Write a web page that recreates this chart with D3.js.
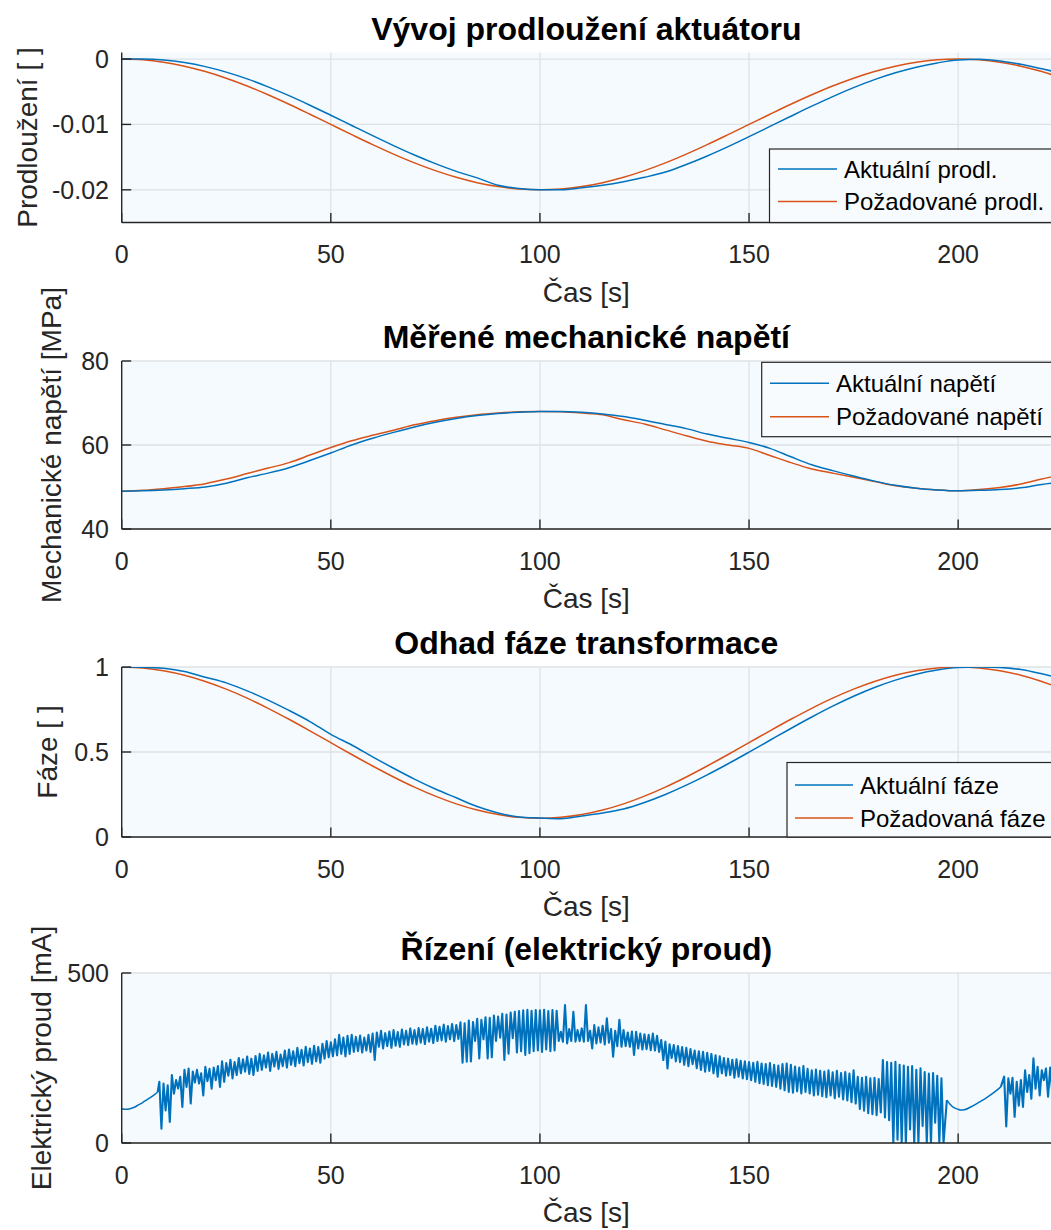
<!DOCTYPE html>
<html>
<head>
<meta charset="utf-8">
<script src="https://cdn.jsdelivr.net/npm/d3@7"></script>
<style>
  html, body { margin: 0; padding: 0; background: #fff; }
  svg { display: block; }
  text { font-family: "Liberation Sans", Arial, Helvetica, sans-serif; }
</style>
</head>
<body>
<script>
// ---- time base for the smooth signals (s) ----
const timeGrid = [0,5,10,15,20,25,30,35,40,45,50,55,60,65,70,75,80,85,90,95,100,
  105,110,115,120,125,130,135,140,145,150,155,160,165,170,175,180,185,190,195,200,
  205,210,215,220,225];

// ---- actuator elongation [ ] ----
const prodlAktualni = [0,0,-0.00015,-0.00054,-0.00116,-0.0020,-0.00304,-0.00425,-0.0056,-0.00706,
  -0.0086,-0.01016,-0.01172,-0.01324,-0.01468,-0.0160,-0.01718,-0.01818,-0.0193,-0.0198,-0.0200,
  -0.0200,-0.0197,-0.0193,-0.01876,-0.01809,-0.01729,-0.01613,-0.01482,-0.01339,-0.01187,
  -0.01031,-0.00875,-0.00721,-0.00574,-0.00438,-0.00315,-0.0021,-0.00124,-0.00059,-0.00015,
  -0.00005,-0.0003,-0.0008,-0.0015,-0.0022];
const prodlPozadovane = [0,-0.00012,-0.00049,-0.00109,-0.00191,-0.00293,-0.00412,-0.00546,-0.00691,-0.00844,
  -0.0100,-0.01156,-0.01309,-0.01454,-0.01588,-0.01707,-0.01809,-0.01891,-0.01951,-0.01988,-0.0200,
  -0.01988,-0.01951,-0.01891,-0.01809,-0.01707,-0.01588,-0.01454,-0.01309,-0.01156,-0.0100,
  -0.00844,-0.00691,-0.00546,-0.00412,-0.00293,-0.00191,-0.00109,-0.00049,-0.00012,0,
  -0.00012,-0.00049,-0.00109,-0.00191,-0.00293];

// ---- measured mechanical stress [MPa] ----
const napetiAktualni = [49.0,49.1,49.3,49.6,50.0,50.9,52.2,53.3,54.6,56.3,58.1,60.0,61.6,63.0,64.3,65.4,
  66.3,67.0,67.5,67.8,68.0,68.0,67.8,67.4,66.8,65.9,64.9,63.9,62.6,61.6,60.6,59.2,57.2,55.3,53.9,
  52.6,51.4,50.4,49.7,49.3,49.1,49.2,49.4,49.8,50.6,51.2];
const napetiPozadovane = [49.0,49.2,49.6,50.1,50.8,51.9,53.2,54.5,55.8,57.6,59.4,61.0,62.3,63.5,64.8,65.8,
  66.6,67.2,67.6,67.9,68.0,67.9,67.6,67.2,66.0,65.0,63.6,62.2,60.9,60.0,59.2,57.5,55.8,54.3,53.3,
  52.3,51.3,50.3,49.7,49.3,49.1,49.4,49.9,50.7,51.9,53.0];

// ---- transformation phase estimate [ ] ----
const fazeAktualni = [1.0,0.999,0.992,0.9737,0.940,0.9066,0.8596,0.8051,0.7445,0.6792,0.604,0.541,0.4716,
  0.4043,0.3406,0.2823,0.2306,0.1793,0.1412,0.1179,0.112,0.108,0.124,0.1412,0.165,0.2034,0.2504,
  0.3049,0.3655,0.4308,0.4992,0.569,0.6384,0.7057,0.7694,0.8277,0.8794,0.923,0.9576,0.9823,0.9965,
  1.0,0.997,0.985,0.96,0.93];
const fazePozadovana = [1.0,0.9945,0.9782,0.9515,0.915,0.8697,0.8166,0.757,0.6925,0.6246,0.555,0.4854,
  0.4175,0.353,0.2934,0.2403,0.195,0.1585,0.1318,0.1155,0.110,0.1155,0.1318,0.1585,0.195,0.2403,
  0.2934,0.353,0.4175,0.4854,0.555,0.6246,0.6925,0.757,0.8166,0.8697,0.915,0.9515,0.9782,0.9945,
  1.0,0.9945,0.9782,0.9515,0.915,0.8697];

// ---- control current [mA] ----
// smooth run-in before the controller starts switching
const proudStartT = [0,1,2,3,4,5,6,7,8,8.6];
const proudStartV = [101,99,101,105,112,119,127,135,144,150];
// per-second upper / lower excursions of the switching current, 9 s .. 196 s
const proudNoiseStart = 9;
const proudNoiseHi = [180,175,170,200,185,195,215,219,210,215,
  205,224,218,222,226,240,235,245,238,250,
  246,254,248,256,262,258,266,262,268,260,
  272,275,270,280,274,283,278,286,282,292,
  300,296,305,318,310,315,318,312,316,310,
  318,322,325,330,323,328,332,326,334,330,
  337,332,338,335,340,336,345,342,348,344,
  350,347,355,352,360,356,365,362,370,368,
  375,372,380,378,384,386,388,390,392,389,
  391,390,392,388,391,389,327,406,335,386,
  332,337,406,330,347,340,345,367,335,330,
  362,332,325,328,327,322,320,318,322,315,
  303,298,290,288,285,282,280,276,272,270,
  268,265,262,258,255,250,248,245,246,242,
  240,238,236,239,234,232,235,230,228,232,
  234,230,225,222,226,218,214,216,212,210,
  214,208,212,206,209,204,214,195,192,195,
  190,192,188,244,238,236,239,230,228,224,
  226,215,220,209,204,206,198,190];
const proudNoiseLo = [42,96,62,145,160,106,165,116,178,175,
  140,182,160,185,165,180,198,190,200,205,
  210,203,200,212,215,222,212,225,218,226,
  222,230,226,235,228,238,233,240,236,248,
  252,255,258,262,255,262,268,270,266,272,
  268,244,283,278,285,280,286,283,290,288,
  292,290,295,291,298,294,300,302,298,305,
  300,306,236,239,240,300,249,305,249,252,
  300,310,244,263,308,266,270,259,264,270,
  272,268,275,270,272,300,298,293,300,298,
  300,298,300,278,293,296,290,295,254,285,
  283,285,283,259,278,275,276,273,272,268,
  244,219,250,240,238,230,226,232,220,215,
  210,212,205,195,205,198,200,192,195,190,
  188,185,180,176,174,170,168,165,160,155,
  150,148,152,146,150,146,140,142,138,135,
  140,132,136,128,125,120,116,100,95,88,
  85,82,90,75,67,0,10,0,0,40,
  0,0,50,0,0,60,0,0];
// smooth pause around the turning point
const proudMidT = [197.3,198,199,200,200.6,201.5,203,205,207,208.5,210.2];
const proudMidV = [126,115,104,99,97,98,106,120,135,148,165];
// switching resumes
const proudTailStart = 211;
const proudTailHi = [195,190,192,180,185,214,200,249,224,214,219,222];
const proudTailLo = [49,145,77,110,106,150,130,160,140,185,136,150];

// ---- axis ticks ----
const xTicks = [0,50,100,150,200];
const prodlTicks = [-0.02,-0.01,0];
const prodlTickLabels = ["-0.02","-0.01","0"];
const napetiTicks = [40,60,80];
const fazeTicks = [0,0.5,1];
const fazeTickLabels = ["0","0.5","1"];
const proudTicks = [0,500];

// ---- assemble the current trace: smooth pieces and switching pieces ----
function switching(start, hi, lo) {
  const pts = [];
  hi.forEach((h, i) => { const t = start + i; pts.push([t, h], [t + 0.5, lo[i]]); });
  return pts;
}
function buildCurrent() {
  const start = proudStartT.map((t, i) => [t, proudStartV[i]]);
  const noise = switching(proudNoiseStart, proudNoiseHi, proudNoiseLo);
  const mid = proudMidT.map((t, i) => [t, proudMidV[i]]);
  const tail = switching(proudTailStart, proudTailHi, proudTailLo);
  return [
    { pts: start, w: 1.5, curve: d3.curveMonotoneX },
    { pts: [start[start.length - 1], ...noise, mid[0]], w: 2.1, curve: d3.curveLinear },
    { pts: mid, w: 1.5, curve: d3.curveMonotoneX },
    { pts: [mid[mid.length - 1], ...tail], w: 2.1, curve: d3.curveLinear }
  ];
}
const zipT = arr => timeGrid.map((t, i) => [t, arr[i]]);

const BLUE = "#0072BD", ORANGE = "#D95319";
const AX = "#262626", GRID = "#DFE2E5", BG = "#F5FAFE";

const W = 1051, H = 1230;
const xLeft = 121.7, xRight = 1051;
const x = d3.scaleLinear().domain([0, 222.2]).range([xLeft, xRight]);

const smooth = (pts) => [{ pts, w: 1.5, curve: d3.curveMonotoneX }];

const panels = [
  { title: "Vývoj prodloužení aktuátoru", ylabel: "Prodloužení [ ]", top: 52.5, bottom: 222.5,
    domain: [-0.025, 0.001], ticks: prodlTicks, tickLabels: prodlTickLabels, ylabelX: 37,
    series: [{ name: "Aktuální prodl.", color: BLUE, parts: smooth(zipT(prodlAktualni)) },
             { name: "Požadované prodl.", color: ORANGE, parts: smooth(zipT(prodlPozadovane)) }],
    legend: { x: 769.5, y: 149, h: 73.5, l1: 169, l2: 201.5, sx: 778, ex: 837, tx: 844 } },
  { title: "Měřené mechanické napětí", ylabel: "Mechanické napětí [MPa]", top: 361, bottom: 529,
    domain: [40, 80], ticks: napetiTicks, tickLabels: napetiTicks.map(String), ylabelX: 61,
    series: [{ name: "Aktuální napětí", color: BLUE, parts: smooth(zipT(napetiAktualni)) },
             { name: "Požadované napětí", color: ORANGE, parts: smooth(zipT(napetiPozadovane)) }],
    legend: { x: 761.7, y: 362.3, h: 74.4, l1: 383.3, l2: 416.7, sx: 770, ex: 829, tx: 836 } },
  { title: "Odhad fáze transformace", ylabel: "Fáze [ ]", top: 667, bottom: 837,
    domain: [0, 1], ticks: fazeTicks, tickLabels: fazeTickLabels, ylabelX: 57,
    series: [{ name: "Aktuální fáze", color: BLUE, parts: smooth(zipT(fazeAktualni)) },
             { name: "Požadovaná fáze", color: ORANGE, parts: smooth(zipT(fazePozadovana)) }],
    legend: { x: 787, y: 762.5, h: 74.5, l1: 785, l2: 818, sx: 795, ex: 853, tx: 860 } },
  { title: "Řízení (elektrický proud)", ylabel: "Elektrický proud [mA]", top: 973, bottom: 1143,
    domain: [0, 500], ticks: proudTicks, tickLabels: proudTicks.map(String), ylabelX: 51,
    series: [{ name: "Proud", color: BLUE, parts: buildCurrent() }],
    legend: null }
];

const svg = d3.select("body").append("svg").attr("width", W).attr("height", H);
svg.append("rect").attr("width", W).attr("height", H).attr("fill", "#fff");

panels.forEach((p, pi) => {
  const y = d3.scaleLinear().domain(p.domain).range([p.bottom, p.top]);
  const g = svg.append("g");

  g.append("rect").attr("x", xLeft).attr("y", p.top)
    .attr("width", xRight - xLeft + 10).attr("height", p.bottom - p.top).attr("fill", BG);

  // grid
  g.selectAll(".gx").data(xTicks.filter(t => t > 0)).join("line")
    .attr("x1", d => x(d)).attr("x2", d => x(d)).attr("y1", p.top).attr("y2", p.bottom)
    .attr("stroke", GRID).attr("stroke-width", 1.3);
  g.selectAll(".gy").data(p.ticks).join("line")
    .attr("x1", xLeft).attr("x2", xRight + 10).attr("y1", d => y(d)).attr("y2", d => y(d))
    .attr("stroke", GRID).attr("stroke-width", 1.3);

  // data
  const clipId = "clip" + pi;
  svg.append("clipPath").attr("id", clipId).append("rect")
    .attr("x", xLeft).attr("y", p.top).attr("width", xRight - xLeft + 10).attr("height", p.bottom - p.top);
  const plot = g.append("g").attr("clip-path", `url(#${clipId})`);
  p.series.slice().reverse().forEach(s => {
    s.parts.forEach(part => {
      const line = d3.line().x(d => x(d[0])).y(d => y(d[1])).curve(part.curve);
      plot.append("path").attr("d", line(part.pts)).attr("fill", "none")
        .attr("stroke", s.color).attr("stroke-width", part.w)
        .attr("stroke-linejoin", "round");
    });
  });

  // spines and inward ticks
  g.append("line").attr("x1", xLeft).attr("x2", xLeft).attr("y1", p.top).attr("y2", p.bottom)
    .attr("stroke", AX).attr("stroke-width", 1.4);
  g.append("line").attr("x1", xLeft).attr("x2", xRight + 5).attr("y1", p.bottom).attr("y2", p.bottom)
    .attr("stroke", AX).attr("stroke-width", 1.4);
  g.selectAll(".tx").data(xTicks).join("line")
    .attr("x1", d => x(d)).attr("x2", d => x(d)).attr("y1", p.bottom).attr("y2", p.bottom - 9.5)
    .attr("stroke", AX).attr("stroke-width", 1.4);
  g.selectAll(".ty").data(p.ticks).join("line")
    .attr("x1", xLeft).attr("x2", xLeft + 9.5).attr("y1", d => y(d)).attr("y2", d => y(d))
    .attr("stroke", AX).attr("stroke-width", 1.4);

  // tick labels
  g.selectAll(".lx").data(xTicks).join("text")
    .attr("x", d => x(d)).attr("y", p.bottom + 40.5).attr("text-anchor", "middle")
    .attr("font-size", 25).attr("fill", AX).text(d => d);
  g.selectAll(".ly").data(p.ticks).join("text")
    .attr("x", 109).attr("y", d => y(d) + 9).attr("text-anchor", "end")
    .attr("font-size", 25).attr("fill", AX).text((d, i) => p.tickLabels[i]);

  // axis labels and title
  g.append("text").attr("x", (xLeft + xRight) / 2).attr("y", p.bottom + 79)
    .attr("text-anchor", "middle").attr("font-size", 28).attr("fill", AX).text("Čas [s]");
  g.append("text").attr("transform", `translate(${p.ylabelX},${(p.top + p.bottom) / 2}) rotate(-90)`)
    .attr("text-anchor", "middle").attr("font-size", 28).attr("fill", AX).text(p.ylabel);
  g.append("text").attr("x", (xLeft + xRight) / 2).attr("y", p.top - 13)
    .attr("text-anchor", "middle").attr("font-size", 32).attr("font-weight", "bold")
    .attr("fill", "#000").text(p.title);

  // legend
  if (p.legend) {
    const L = p.legend;
    const lg = g.append("g");
    lg.append("rect").attr("x", L.x).attr("y", L.y).attr("width", W - L.x + 20).attr("height", L.h)
      .attr("fill", "#F8FBFE").attr("stroke", AX).attr("stroke-width", 1.2);
    [L.l1, L.l2].forEach((ly, i) => {
      const s = p.series[i];
      lg.append("line").attr("x1", L.sx).attr("x2", L.ex).attr("y1", ly).attr("y2", ly)
        .attr("stroke", s.color).attr("stroke-width", 1.5);
      lg.append("text").attr("x", L.tx).attr("y", ly + 8.5).attr("font-size", 24)
        .attr("fill", "#000").text(s.name);
    });
  }
});
</script>
</body>
</html>
